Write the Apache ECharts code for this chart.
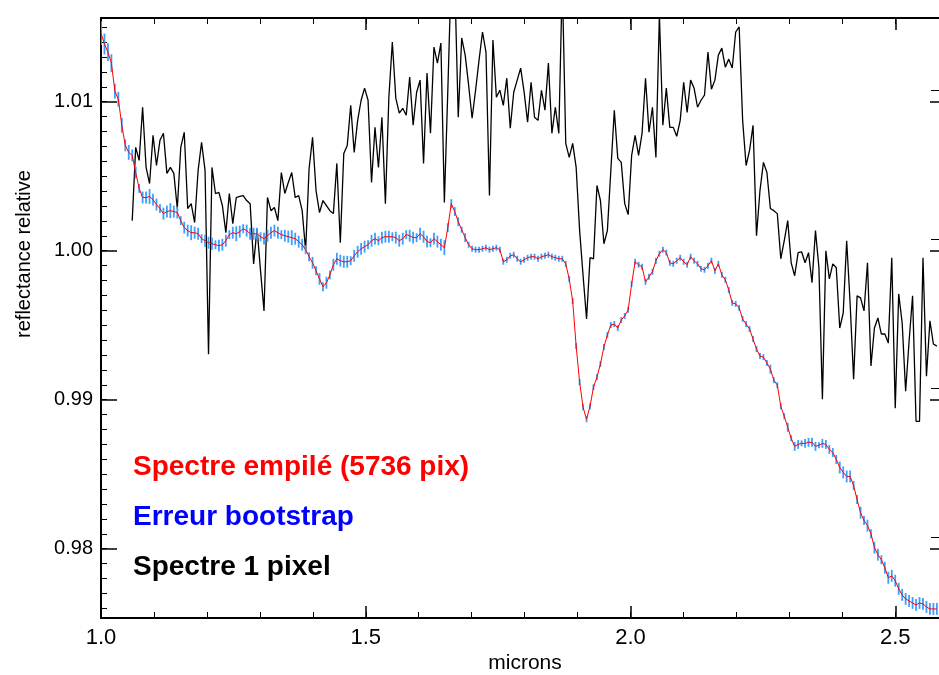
<!DOCTYPE html>
<html><head><meta charset="utf-8">
<script src="https://cdn.jsdelivr.net/npm/echarts@6/dist/echarts.min.js"></script>
<style>html,body{margin:0;padding:0;background:#fff;overflow:hidden}#c{width:939px;height:675px}</style>
</head><body><div id="c"></div>
<script>
// Instrument wavelength grid (microns): first channel and channel spacing
const WAVE_START = 1.0;
const WAVE_STEP = 0.00655;

// Stacked spectrum (5736 pixels), one value per channel
const stackedSpectrum = [
1.01461,1.01387,1.01333,1.01259,1.01071,1.01017,1.00842,1.00707,1.00660,1.00640,
1.00525,1.00418,1.00357,1.00357,1.00364,1.00343,1.00310,1.00283,1.00249,1.00263,
1.00269,1.00263,1.00256,1.00202,1.00155,1.00135,1.00121,1.00121,1.00114,1.00081,
1.00067,1.00054,1.00047,1.00040,1.00034,1.00040,1.00067,1.00108,1.00121,1.00114,
1.00128,1.00148,1.00135,1.00114,1.00114,1.00114,1.00094,1.00081,1.00101,1.00121,
1.00135,1.00121,1.00108,1.00101,1.00094,1.00088,1.00081,1.00061,1.00040,1.00007,
0.99960,0.99919,0.99865,0.99811,0.99758,0.99785,0.99838,0.99906,0.99946,0.99933,
0.99926,0.99926,0.99933,0.99966,0.99993,1.00013,1.00027,1.00040,1.00067,1.00081,
1.00067,1.00088,1.00094,1.00094,1.00094,1.00088,1.00067,1.00081,1.00108,1.00101,
1.00088,1.00088,1.00114,1.00094,1.00061,1.00054,1.00081,1.00061,1.00040,1.00020,
1.00155,1.00316,1.00263,1.00195,1.00141,1.00088,1.00040,1.00013,1.00007,1.00007,
1.00013,1.00020,1.00007,1.00013,1.00020,1.00007,0.99926,0.99939,0.99966,0.99973,
0.99946,0.99926,0.99939,0.99953,0.99960,0.99960,0.99946,0.99960,0.99966,0.99973,
0.99960,0.99953,0.99946,0.99946,0.99912,0.99811,0.99663,0.99360,0.99118,0.98949,
0.98869,0.98956,0.99084,0.99152,0.99239,0.99354,0.99434,0.99502,0.99508,0.99481,
0.99535,0.99562,0.99603,0.99778,0.99926,0.99906,0.99892,0.99791,0.99825,0.99859,
0.99933,0.99980,1.00007,0.99987,0.99919,0.99912,0.99933,0.99953,0.99926,0.99906,
0.99960,0.99933,0.99912,0.99879,0.99872,0.99899,0.99933,0.99865,0.99912,0.99838,
0.99805,0.99737,0.99650,0.99643,0.99616,0.99542,0.99508,0.99475,0.99407,0.99340,
0.99293,0.99286,0.99246,0.99205,0.99131,0.99098,0.98956,0.98889,0.98815,0.98741,
0.98687,0.98700,0.98707,0.98707,0.98714,0.98714,0.98687,0.98694,0.98707,0.98700,
0.98667,0.98646,0.98599,0.98545,0.98512,0.98485,0.98485,0.98424,0.98330,0.98242,
0.98189,0.98155,0.98101,0.98007,0.97960,0.97926,0.97872,0.97805,0.97818,0.97785,
0.97731,0.97690,0.97663,0.97650,0.97636,0.97623,0.97636,0.97630,0.97609,0.97596,
0.97596,0.97596
];

// Bootstrap error (half-width) on the stacked spectrum
const bootstrapError = [
0.0008,0.0007,0.0006,0.0006,0.0005,0.0005,0.0005,0.0004,0.0005,0.0004,
0.0004,0.0003,0.0004,0.0004,0.0005,0.0004,0.0004,0.0003,0.0004,0.0004,
0.0005,0.0004,0.0004,0.0003,0.0004,0.0004,0.0005,0.0004,0.0004,0.0003,
0.0004,0.0004,0.0004,0.0003,0.0004,0.0004,0.0004,0.0003,0.0004,0.0005,
0.0004,0.0003,0.0004,0.0004,0.0004,0.0004,0.0003,0.0004,0.0004,0.0004,
0.0004,0.0004,0.0003,0.0004,0.0004,0.0005,0.0004,0.0004,0.0004,0.0003,
0.0003,0.0004,0.0003,0.0004,0.0003,0.0004,0.0003,0.0004,0.0004,0.0004,
0.0004,0.0004,0.0003,0.0004,0.0004,0.0004,0.0004,0.0003,0.0004,0.0004,
0.0003,0.0004,0.0004,0.0004,0.0003,0.0004,0.0004,0.0004,0.0003,0.0004,
0.0004,0.0003,0.0004,0.0004,0.0004,0.0003,0.0004,0.0004,0.0004,0.0005,
0.0003,0.0003,0.0003,0.0003,0.0002,0.0003,0.0002,0.0002,0.0002,0.0002,
0.0002,0.0002,0.0002,0.0002,0.0002,0.0002,0.0002,0.0002,0.0002,0.0002,
0.0002,0.0002,0.0002,0.0002,0.0002,0.0002,0.0002,0.0002,0.0002,0.0002,
0.0002,0.0002,0.0002,0.0002,0.0002,0.0002,0.0002,0.0002,0.0002,0.0002,
0.0002,0.0002,0.0002,0.0002,0.0002,0.0002,0.0002,0.0002,0.0002,0.0002,
0.0002,0.0002,0.0002,0.0002,0.0002,0.0002,0.0002,0.0002,0.0002,0.0002,
0.0002,0.0002,0.0002,0.0002,0.0002,0.0002,0.0002,0.0002,0.0002,0.0002,
0.0002,0.0002,0.0002,0.0002,0.0002,0.0002,0.0002,0.0002,0.0002,0.0002,
0.0002,0.0002,0.0002,0.0002,0.0002,0.0002,0.0002,0.0002,0.0002,0.0002,
0.0002,0.0002,0.0002,0.0003,0.0002,0.0002,0.0002,0.0002,0.0003,0.0002,
0.0003,0.0003,0.0002,0.0003,0.0003,0.0003,0.0003,0.0002,0.0003,0.0003,
0.0003,0.0003,0.0003,0.0004,0.0004,0.0004,0.0004,0.0003,0.0003,0.0004,
0.0003,0.0004,0.0003,0.0004,0.0004,0.0003,0.0004,0.0004,0.0004,0.0004,
0.0004,0.0004,0.0004,0.0004,0.0004,0.0004,0.0004,0.0004,0.0004,0.0004,
0.0004,0.0004
];

// Single-pixel spectrum (starts at channel 9)
const pixelSpectrum = [
null,null,null,null,null,null,null,null,null,1.00202,
1.00694,1.00606,1.00963,1.00559,1.00451,1.00774,1.00572,1.00741,1.00788,1.00519,
1.00559,1.00519,1.00283,1.00694,1.00795,1.00283,1.00316,1.00189,1.00539,1.00727,
1.00539,0.99306,1.00559,1.00384,1.00391,1.00303,1.00121,1.00384,1.00182,1.00357,
1.00364,1.00370,1.00337,1.00316,0.99912,1.00148,0.99865,0.99596,1.00357,1.00269,
1.00290,1.00202,1.00525,1.00384,1.00458,1.00525,1.00357,1.00370,1.00269,1.00000,
1.00552,1.00761,1.00404,1.00256,1.00337,1.00303,1.00269,1.00249,1.00586,1.00054,
1.00653,1.00707,1.00976,1.00660,1.00875,1.01010,1.01091,1.01010,1.00458,1.00828,
1.00559,1.00896,1.00316,1.01030,1.01401,1.01024,1.00923,1.00956,1.00909,1.01165,
1.00842,1.01064,1.01145,1.00586,1.01192,1.00788,1.01367,1.01259,1.01394,1.00323,
1.01077,1.01886,1.01818,1.00896,1.01428,1.01313,1.01111,1.00889,1.01077,1.01279,
1.01468,1.01333,1.00370,1.01414,1.01030,1.01077,1.00976,1.01158,1.00822,1.01064,
1.01145,1.01226,1.01064,1.00862,1.01131,1.00896,1.00875,1.01077,1.00943,1.01259,
1.00788,1.00963,1.00788,1.01818,1.00721,1.00626,1.00721,1.00559,1.00135,0.99832,
0.99542,0.99953,0.99946,1.00438,1.00337,1.00047,1.00135,1.00539,1.00943,1.00620,
1.00593,1.00316,1.00242,1.00640,1.00774,1.00640,1.00788,1.01158,1.00795,1.00963,
1.00626,1.01582,1.00842,1.01091,1.00828,1.00828,1.00768,1.00875,1.01131,1.00929,
1.01145,1.01091,1.00963,1.01010,1.01044,1.01333,1.01084,1.01145,1.01313,1.01360,
1.01232,1.01286,1.01226,1.01468,1.01502,1.00875,1.00572,1.00673,1.00842,1.00101,
1.00404,1.00593,1.00525,1.00283,1.00269,1.00249,0.99946,1.00067,1.00202,0.99919,
0.99832,0.99987,0.99993,0.99919,0.99987,0.99785,1.00135,0.99886,0.99003,1.00000,
0.99811,0.99912,0.99886,0.99481,0.99582,1.00067,0.99643,0.99138,0.99697,0.99684,
0.99596,0.99919,0.99226,0.99481,0.99549,0.99441,0.99441,0.99380,0.99953,0.98943,
0.99710,0.99515,0.99057,0.99394,0.99697,0.98855,0.98855,0.99953,0.99158,0.99529,
0.99374,0.99360
];

// Tick values
const xMajorTicks = [1.0, 1.5, 2.0, 2.5];
const yMajorTicks = [0.98, 0.99, 1.00, 1.01];

const legendTexts = ['Spectre empilé (5736 pix)', 'Erreur bootstrap', 'Spectre 1 pixel'];
const xAxisTitle = 'microns';
const yAxisTitle = 'reflectance relative';

// ---- build ----
const X_MIN = 1.0, X_MAX = 2.5826;
const Y_MIN = 0.97535, Y_MAX = 1.01562;
const wave = stackedSpectrum.map((_, i) => +(WAVE_START + i * WAVE_STEP).toFixed(5));
const xMinor = []; for (let k = 10; k <= 25; k++) xMinor.push(k / 10);
const yMinor = []; for (let k = 976; k <= 1015; k++) yMinor.push(k / 1000);

const redData = stackedSpectrum.map((v, i) => [wave[i], v]);
const blackData = [];
pixelSpectrum.forEach((v, i) => { if (v !== null) blackData.push([wave[i], v]); });
const errData = stackedSpectrum.map((v, i) => [wave[i], v, bootstrapError[i]]);

const FONT = '"Liberation Sans", Arial, Helvetica, sans-serif';
const tickLine = w => ({ color: '#000', width: w });
const hidden = { show: false };

const chart = echarts.init(document.getElementById('c'), null, { renderer: 'canvas' });
chart.setOption({
  animation: false,
  backgroundColor: '#fff',
  grid: { left: 101, top: 18, right: 0, bottom: 57, containLabel: false, outerBoundsMode: 'none' },
  xAxis: [
    { type: 'value', position: 'bottom', min: X_MIN, max: X_MAX,
      axisLine: { show: true, lineStyle: tickLine(2) },
      axisTick: { show: true, inside: true, length: 12, customValues: xMajorTicks, lineStyle: tickLine(1.5) },
      axisLabel: { show: true, customValues: xMajorTicks, formatter: v => v.toFixed(1), fontSize: 22, color: '#000', fontFamily: FONT, margin: 9 },
      splitLine: hidden },
    { type: 'value', position: 'bottom', min: X_MIN, max: X_MAX, axisLine: hidden,
      axisTick: { show: true, inside: true, length: 6, customValues: xMinor, lineStyle: tickLine(1) },
      axisLabel: hidden, splitLine: hidden },
    { type: 'value', position: 'top', min: X_MIN, max: X_MAX,
      axisLine: { show: true, lineStyle: tickLine(2) },
      axisTick: { show: true, inside: true, length: 12, customValues: xMajorTicks, lineStyle: tickLine(1.5) },
      axisLabel: hidden, splitLine: hidden },
    { type: 'value', position: 'top', min: X_MIN, max: X_MAX, axisLine: hidden,
      axisTick: { show: true, inside: true, length: 6, customValues: xMinor, lineStyle: tickLine(1) },
      axisLabel: hidden, splitLine: hidden }
  ],
  yAxis: [
    { type: 'value', position: 'left', min: Y_MIN, max: Y_MAX,
      axisLine: { show: true, lineStyle: tickLine(2) },
      axisTick: { show: true, inside: true, length: 16, customValues: yMajorTicks, lineStyle: tickLine(1.5) },
      axisLabel: { show: true, customValues: yMajorTicks, formatter: v => v.toFixed(2), fontSize: 20, color: '#000', fontFamily: FONT, margin: 8 },
      splitLine: hidden },
    { type: 'value', position: 'left', min: Y_MIN, max: Y_MAX, axisLine: hidden,
      axisTick: { show: true, inside: true, length: 6, customValues: yMinor, lineStyle: tickLine(1) },
      axisLabel: hidden, splitLine: hidden },
    { type: 'value', position: 'right', min: Y_MIN, max: Y_MAX, axisLine: hidden,
      axisTick: { show: true, inside: true, length: 9, customValues: yMajorTicks, lineStyle: tickLine(1.5) },
      axisLabel: hidden, splitLine: hidden },
    { type: 'value', position: 'right', min: Y_MIN - 0.00074, max: Y_MAX - 0.00074, axisLine: hidden,
      axisTick: { show: true, inside: true, length: 8, customValues: yMajorTicks, lineStyle: tickLine(1) },
      axisLabel: hidden, splitLine: hidden }
  ],
  series: [
    { type: 'line', name: legendTexts[2], xAxisIndex: 0, yAxisIndex: 0, data: blackData,
      showSymbol: false, symbol: 'none', clip: true,
      lineStyle: { color: '#000', width: 1.3 }, z: 2 },
    { type: 'custom', name: legendTexts[1], xAxisIndex: 0, yAxisIndex: 0, data: errData, clip: true, z: 3,
      renderItem: (params, api) => {
        const x = api.value(0), v = api.value(1), e = api.value(2);
        const p1 = api.coord([x, v - e]), p2 = api.coord([x, v + e]);
        return { type: 'line', shape: { x1: p1[0], y1: p1[1], x2: p2[0], y2: p2[1] },
                 style: { stroke: '#3d9eff', lineWidth: 1.8 } };
      } },
    { type: 'line', name: legendTexts[0], xAxisIndex: 0, yAxisIndex: 0, data: redData,
      showSymbol: false, symbol: 'none', clip: true,
      lineStyle: { color: '#ff0000', width: 1 }, z: 4 }
  ],
  graphic: [
    { type: 'text', x: 133, y: 467, style: { text: legendTexts[0], fill: '#ff0000', font: 'bold 28px ' + FONT, verticalAlign: 'middle' } },
    { type: 'text', x: 133, y: 517, style: { text: legendTexts[1], fill: '#0000ff', font: 'bold 28px ' + FONT, verticalAlign: 'middle' } },
    { type: 'text', x: 133, y: 567, style: { text: legendTexts[2], fill: '#000000', font: 'bold 28px ' + FONT, verticalAlign: 'middle' } },
    { type: 'text', x: 525, y: 663, style: { text: xAxisTitle, fill: '#000', font: '21px ' + FONT, align: 'center', verticalAlign: 'middle' } },
    { type: 'text', x: 24, y: 254, rotation: Math.PI / 2, style: { text: yAxisTitle, fill: '#000', font: '20px ' + FONT, align: 'center', verticalAlign: 'middle' } }
  ]
});
</script>
</body></html>
